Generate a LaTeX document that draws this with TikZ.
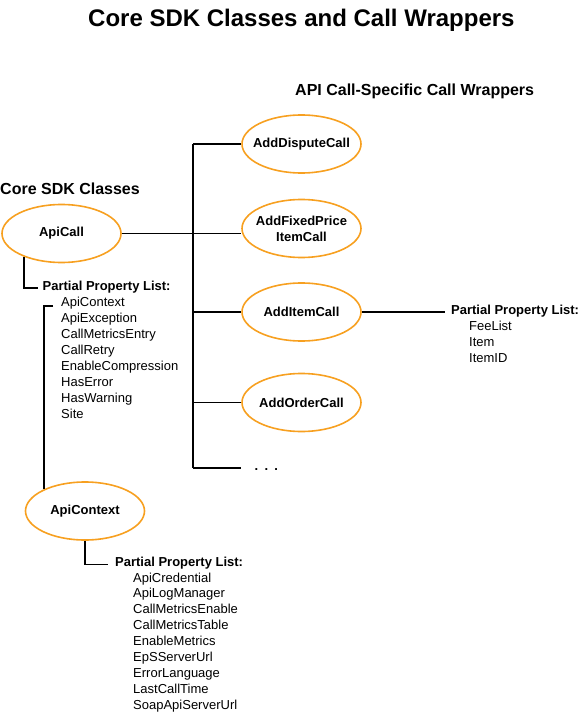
\documentclass[tikz,border=0pt]{standalone}
\usepackage{fontspec}
\setmainfont{Liberation Sans}
\usetikzlibrary{shapes.geometric}
\definecolor{ovalorange}{RGB}{247,160,32}
\newcommand{\zw}[1]{\makebox[0pt][c]{#1}}
\begin{document}
\begin{tikzpicture}[x=1pt,y=-1pt,
  oval/.style={ellipse, draw=ovalorange, line width=1.6pt, minimum width=119pt, minimum height=58pt, inner sep=0pt, font=\bfseries\fontsize{13}{16}\selectfont, align=center},
  conn/.style={draw=black, line width=1.3pt},
  lbl/.style={anchor=base west, inner sep=0pt, font=\fontsize{13}{16}\selectfont},
  hdr/.style={anchor=base west, inner sep=0pt, font=\bfseries\fontsize{13}{16}\selectfont},
  sect/.style={anchor=base west, inner sep=0pt, font=\bfseries\fontsize{16}{19}\selectfont},
  ttl/.style={anchor=base west, inner sep=0pt, font=\bfseries\fontsize{24}{28}\selectfont}
]
\useasboundingbox (0,0) rectangle (581,714);

% headings
\node[ttl] (title) at (88,27) {Core SDK Classes and Call Wrappers};
\node[sect] (wraphdr) at (295,96) {API Call-Specific Call Wrappers};
\node[sect] (corehdr) at (0,194) {Core SDK Classes};

% ovals
\node[oval] (apicall) at (61.5,233.5) {\zw{ApiCall}};
\node[oval] (apictx) at (85,511) {\zw{ApiContext}};
\node[oval] (disp) at (301.5,144) {\zw{AddDisputeCall}};
\node[oval] (fixed) at (301.5,228.5) {\zw{AddFixedPrice}\\\zw{ItemCall}};
\node[oval] (item) at (301.5,312) {\zw{AddItemCall}};
\node[oval] (order) at (301.5,402.5) {\zw{AddOrderCall}};
\node[hdr] (dots) at (254.5,470) {.\hspace{6.2pt}.\hspace{6.2pt}.};

% property lists
\node[hdr] (pl1) at (42.5,290) {Partial Property List:};
\foreach \t [count=\i from 0] in {ApiContext,ApiException,CallMetricsEntry,CallRetry,EnableCompression,HasError,HasWarning,Site}
  \node[lbl] (pa\i) at (61,{306+16*\i}) {\t};

\node[hdr] (pl2) at (451,314.3) {Partial Property List:};
\foreach \t [count=\i from 0] in {FeeList,Item,ItemID}
  \node[lbl] (pb\i) at (469,{330+16*\i}) {\t};

\node[hdr] (pl3) at (115,566) {Partial Property List:};
\foreach \t [count=\i from 0] in {ApiCredential,ApiLogManager,CallMetricsEnable,CallMetricsTable,EnableMetrics,EpSServerUrl,ErrorLanguage,LastCallTime,SoapApiServerUrl}
  \node[lbl] (pc\i) at (133,{582+15.9*\i}) {\t};

% connectors
\coordinate (tk) at (193,0);
\coordinate (dotsend) at (241,468);
\draw[conn] (disp.west -| tk) -- (dotsend -| tk);
\draw[conn] (disp.west -| tk) -- (disp.west);
\draw[conn] (apicall.east) -- (apicall.east -| fixed.west);
\draw[conn] (item.west -| tk) -- (item.west);
\draw[conn] (order.west -| tk) -- (order.west);
\draw[conn] (dotsend -| tk) -- (dotsend);
\draw[conn] (item.east) -- ([xshift=-6pt]item.east -| pl2.west);

\draw[conn] (apicall.212) |- ([xshift=-4.5pt,yshift=2pt]pl1.base west);
\draw[conn] ([xshift=-8pt]pa0.base west) -| (apictx.152);
\draw[conn] (apictx.south) |- ([xshift=-7pt,yshift=1.7pt]pl3.base west);
\end{tikzpicture}
\end{document}
